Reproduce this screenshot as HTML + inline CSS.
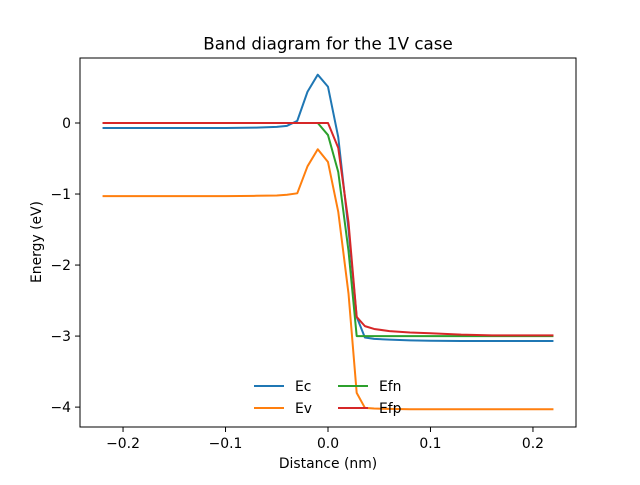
<!DOCTYPE html>
<html><head><meta charset="utf-8"><style>
html,body{margin:0;padding:0;background:#fff;}
svg text{font-family:"DejaVu Sans","Liberation Sans",sans-serif;fill:#000;}
</style></head><body>
<svg id="chart" width="640" height="480" xmlns="http://www.w3.org/2000/svg">
<rect width="640" height="480" fill="#fff"/>
<text x="328" y="49.5" font-size="16.7" text-anchor="middle">Band diagram for the 1V case</text>
<g id="plot"></g>
<rect x="80" y="58" width="496" height="369" fill="none" stroke="#000" stroke-width="1"/>
<g id="ticks"></g>
<text x="328" y="468" font-size="13.9" text-anchor="middle">Distance (nm)</text>
<text transform="translate(41,242) rotate(-90)" font-size="13.9" text-anchor="middle">Energy (eV)</text>
<g id="legend"></g>
</svg>
<script>
const xs   = [-0.22,-0.15,-0.1,-0.07,-0.05,-0.04,-0.03,-0.02,-0.01,0,0.01,0.02,0.028,0.036,0.045,0.06,0.08,0.1,0.13,0.16,0.22];
const ec   = [-0.07,-0.07,-0.07,-0.065,-0.055,-0.04,0.03,0.44,0.68,0.51,-0.2,-1.5,-2.73,-3.02,-3.04,-3.05,-3.06,-3.065,-3.07,-3.07,-3.07];
const ev   = [-1.03,-1.03,-1.03,-1.025,-1.02,-1.01,-0.99,-0.61,-0.37,-0.55,-1.25,-2.4,-3.8,-4.01,-4.02,-4.025,-4.03,-4.03,-4.03,-4.03,-4.03];
const efn  = [0,0,0,0,0,0,0,0,0,-0.17,-0.69,-1.8,-3.0,-3.0,-3.0,-3.0,-3.0,-3.0,-3.0,-3.0,-3.0];
const efp  = [0,0,0,0,0,0,0,0,0,0,-0.35,-1.4,-2.73,-2.86,-2.9,-2.93,-2.95,-2.96,-2.98,-2.99,-2.99];
const seriesNames = ["Ec","Ev","Efn","Efp"];
const xTicks = [-0.2,-0.1,0.0,0.1,0.2];
const xTickLabels = ["\u22120.2","\u22120.1","0.0","0.1","0.2"];
const yTicks = [0,-1,-2,-3,-4];
const yTickLabels = ["0","\u22121","\u22122","\u22123","\u22124"];

const NS="http://www.w3.org/2000/svg";
const X0=-0.242,X1=0.242,Y0=-4.28,Y1=0.915;
function sx(v){return 80+(v-X0)/(X1-X0)*496;}
function sy(v){return 427-(v-Y0)/(Y1-Y0)*369;}
const colors=["#1f77b4","#ff7f0e","#2ca02c","#d62728"];
const data=[ec,ev,efn,efp];
const plot=document.getElementById('plot');
data.forEach((s,i)=>{
  const p=document.createElementNS(NS,'polyline');
  p.setAttribute('points',xs.map((x,j)=>sx(x).toFixed(2)+','+sy(s[j]).toFixed(2)).join(' '));
  p.setAttribute('fill','none');p.setAttribute('stroke',colors[i]);p.setAttribute('stroke-width','2');
  p.setAttribute('stroke-linejoin','round');
  
  
  plot.appendChild(p);
});
const tg=document.getElementById('ticks');
xTicks.forEach((t,i)=>{
  const l=document.createElementNS(NS,'line');
  l.setAttribute('x1',sx(t));l.setAttribute('x2',sx(t));l.setAttribute('y1',427);l.setAttribute('y2',432);l.setAttribute('stroke','#000');
  
  
  tg.appendChild(l);
  const tx=document.createElementNS(NS,'text');
  tx.setAttribute('x',sx(t));tx.setAttribute('y',448);tx.setAttribute('font-size','13.9');tx.setAttribute('text-anchor','middle');
  tx.textContent=xTickLabels[i];
  
  
  tg.appendChild(tx);
});
yTicks.forEach((t,i)=>{
  const l=document.createElementNS(NS,'line');
  l.setAttribute('x1',75);l.setAttribute('x2',80);l.setAttribute('y1',sy(t));l.setAttribute('y2',sy(t));l.setAttribute('stroke','#000');
  
  
  tg.appendChild(l);
  const tx=document.createElementNS(NS,'text');
  tx.setAttribute('x',71);tx.setAttribute('y',sy(t)+5);tx.setAttribute('font-size','13.9');tx.setAttribute('text-anchor','end');
  tx.textContent=yTickLabels[i];
  
  
  tg.appendChild(tx);
});
const lg=document.getElementById('legend');
const lpos=[[254,386],[254,408],[338,386],[338,408]];
seriesNames.forEach((n,i)=>{
  const g=document.createElementNS(NS,'g');
  
  
  const l=document.createElementNS(NS,'line');
  l.setAttribute('x1',lpos[i][0]);l.setAttribute('x2',lpos[i][0]+30);l.setAttribute('y1',lpos[i][1]);l.setAttribute('y2',lpos[i][1]);
  l.setAttribute('stroke',colors[i]);l.setAttribute('stroke-width','2');
  g.appendChild(l);
  const tx=document.createElementNS(NS,'text');
  tx.setAttribute('x',lpos[i][0]+41);tx.setAttribute('y',lpos[i][1]+5);tx.setAttribute('font-size','13.9');
  tx.textContent=n;
  g.appendChild(tx);
  lg.appendChild(g);
});
</script>
</body></html>
